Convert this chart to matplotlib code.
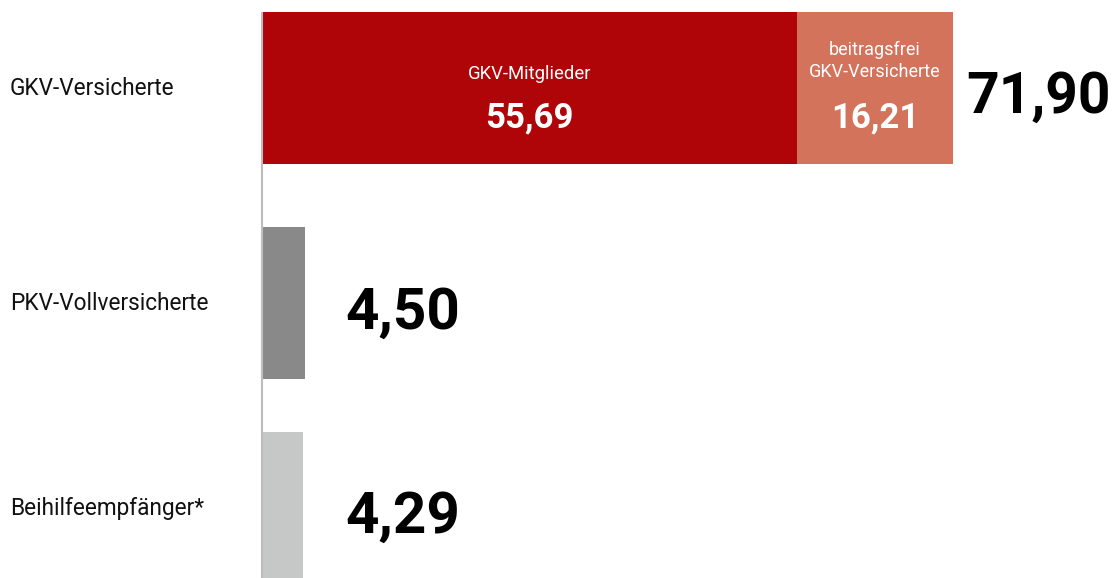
import matplotlib
matplotlib.use("Agg")
import matplotlib.pyplot as plt

# Versicherte in Mio.
categories = ["GKV-Versicherte", "PKV-Vollversicherte", "Beihilfeempfänger*"]
gkv_members = 55.69
gkv_free = 16.21
gkv_total = 71.90
pkv_full = 4.50
beihilfe = 4.29

labels_total = ["71,90", "4,50", "4,29"]
seg_labels = ["GKV-Mitglieder", "beitragsfrei\nGKV-Versicherte"]
seg_values = ["55,69", "16,21"]

W, H = 1115, 578
fig = plt.figure(figsize=(W / 100, H / 100), dpi=100)
ax = fig.add_axes([0, 0, 1, 1])

px_per_unit = (953 - 262) / gkv_total
ax.set_xlim(-262 / px_per_unit, (W - 262) / px_per_unit)
ax.set_ylim(H, 0)
ax.axis("off")

FONT = ["Roboto", "DejaVu Sans"]
RED = "#B00508"
SALMON = "#D4735C"
GRAY = "#898989"
LIGHT = "#C6C8C7"

ypos = [87.5, 303, 508]
bh = 152

ax.barh(ypos[0], gkv_members, height=bh, color=RED, left=0)
ax.barh(ypos[0], gkv_free, height=bh, color=SALMON, left=gkv_members)
ax.barh(ypos[1], pkv_full, height=bh, color=GRAY, left=0)
ax.barh(ypos[2], beihilfe, height=bh, color=LIGHT, left=0)

# axis line
ax.plot([0, 0], [12, H], color="#BDBDBD", lw=1.5, solid_capstyle="butt")

# category labels
label_x = -252 / px_per_unit
for y, c in zip(ypos, categories):
    ax.text(label_x, y + 1, c, ha="left", va="center", fontsize=16.3,
            family=FONT, color="#111111")

# segment labels inside the GKV bar
mid1 = gkv_members / 2
mid2 = gkv_members + gkv_free / 2
ax.text(mid1, 74, seg_labels[0], ha="center", va="center", fontsize=13.3,
        family=FONT, color="white")
ax.text(mid2, 61, seg_labels[1], ha="center", va="center", fontsize=13,
        family=FONT, color="white", linespacing=1.35)
ax.text(mid1, 118, seg_values[0], ha="center", va="center", fontsize=25,
        family=FONT, color="white", fontweight="bold")
ax.text(mid2, 118, seg_values[1], ha="center", va="center", fontsize=25,
        family=FONT, color="white", fontweight="bold")

# totals
ax.text((1111 - 262) / px_per_unit, 97, labels_total[0], ha="right", va="center",
        fontsize=41, family=FONT, fontweight="bold", color="black")
ax.text(pkv_full + 40 / px_per_unit, 313, labels_total[1], ha="left", va="center",
        fontsize=42, family=FONT, fontweight="bold", color="black")
ax.text(beihilfe + 42 / px_per_unit, 517, labels_total[2], ha="left", va="center",
        fontsize=42, family=FONT, fontweight="bold", color="black")

fig.savefig("out.png", dpi=100, facecolor="white")
